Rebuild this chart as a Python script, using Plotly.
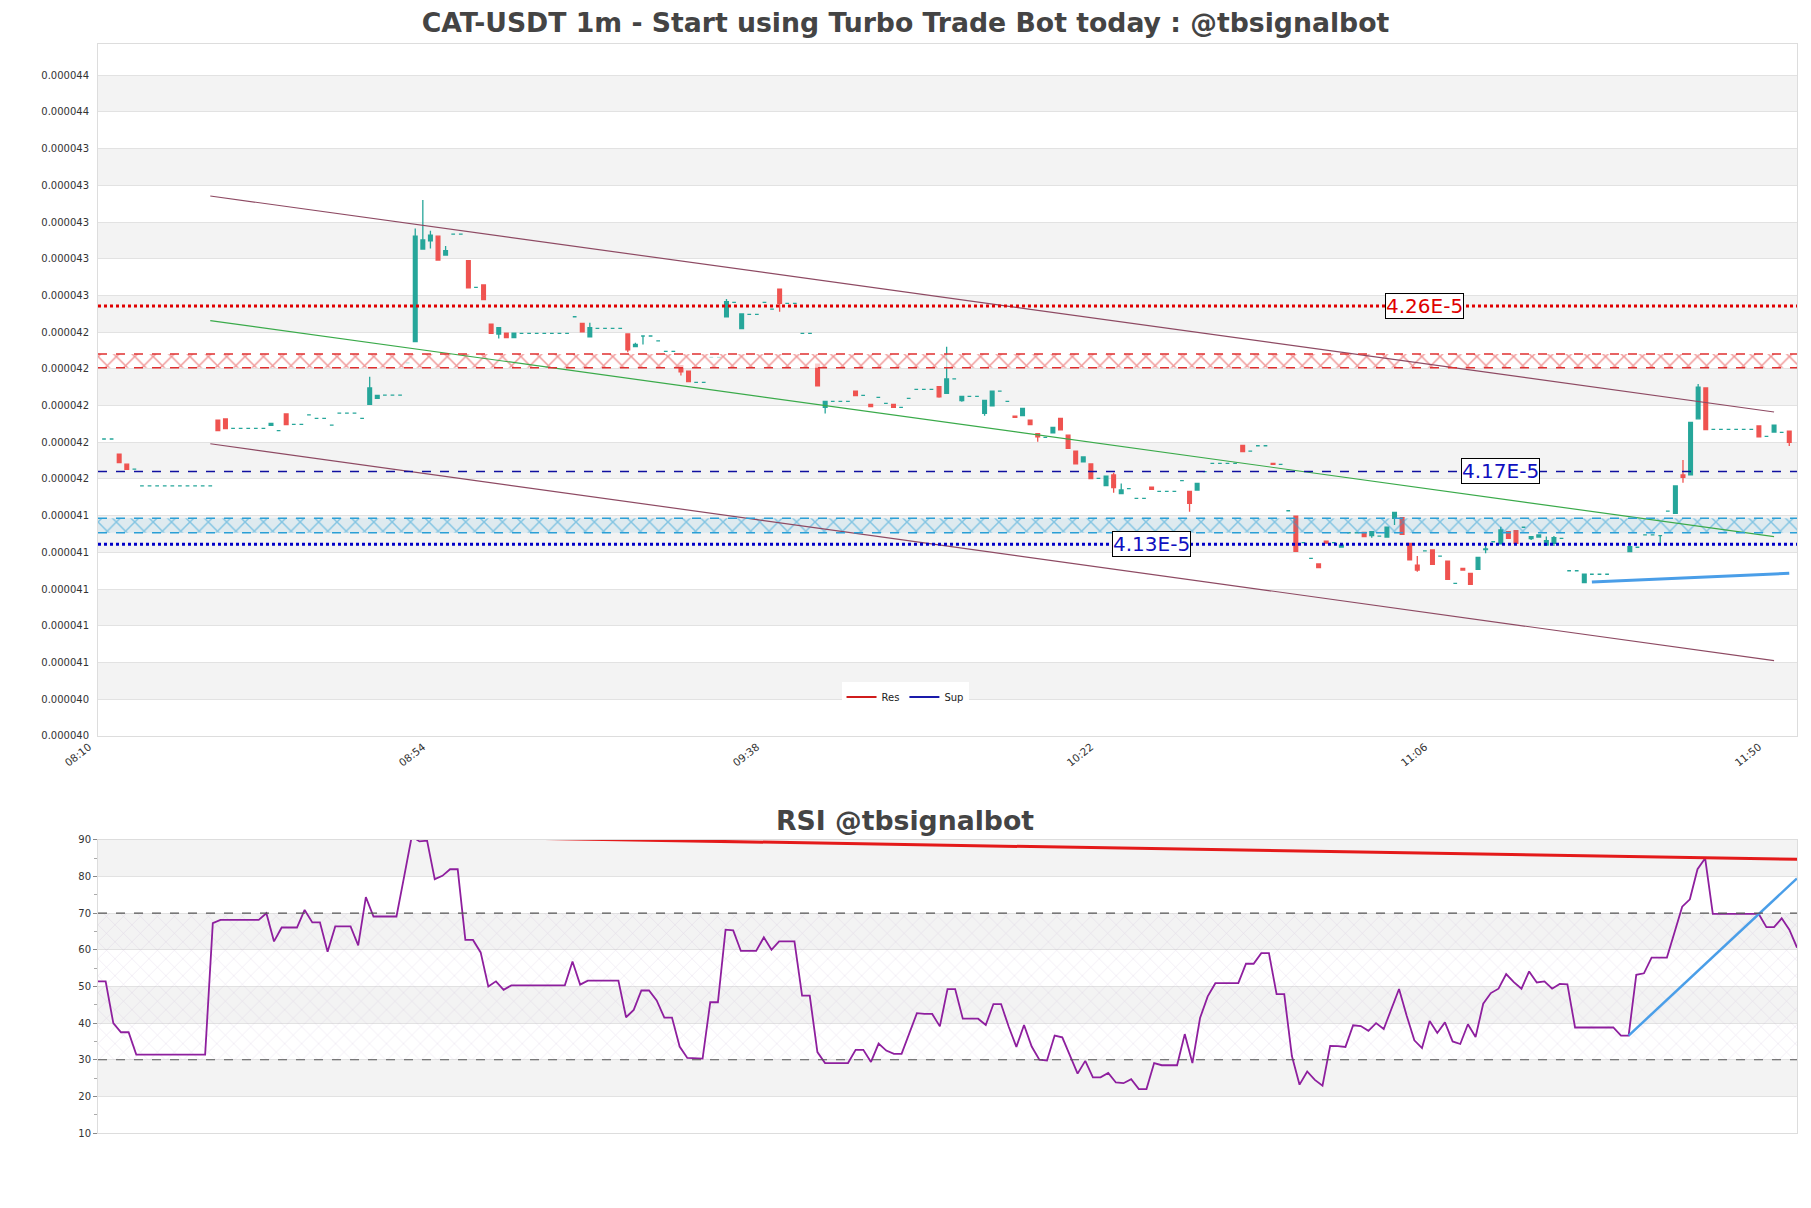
import pandas as pd
import plotly.graph_objects as go

# values in units of 1e-5
opens = [
    4.1868, 4.1868, 4.1786, 4.1731, 4.1704, 4.1612, 4.1612, 4.1612, 4.1612, 4.1612,
    4.1612, 4.1612, 4.1612, 4.1612, 4.1612, 4.1971, 4.1977, 4.1926, 4.1926, 4.1926,
    4.1926, 4.1926, 4.1942, 4.1913, 4.2004, 4.1948, 4.1948, 4.1999, 4.1980, 4.1980,
    4.1944, 4.2009, 4.2009, 4.2009, 4.1980, 4.2057, 4.2089, 4.2107, 4.2107, 4.2107,
    4.2283, 4.2398, 4.2903, 4.2948, 4.2973, 4.2870, 4.2984, 4.2984, 4.2839, 4.2694,
    4.2707, 4.2494, 4.2440, 4.2445, 4.2420, 4.2443, 4.2443, 4.2443, 4.2443, 4.2443,
    4.2443, 4.2443, 4.2534, 4.2498, 4.2425, 4.2471, 4.2471, 4.2471, 4.2471, 4.2440,
    4.2371, 4.2429, 4.2429, 4.2403, 4.2345, 4.2345, 4.2267, 4.2238, 4.2176, 4.2176,
    4.2313, 4.2313, 4.2534, 4.2612, 4.2469, 4.2547, 4.2547, 4.2612, 4.2576, 4.2685,
    4.2607, 4.2607, 4.2443, 4.2443, 4.2276, 4.2040, 4.2073, 4.2073, 4.2073, 4.2129,
    4.2106, 4.2057, 4.2095, 4.2062, 4.2057, 4.2040, 4.2089, 4.2138, 4.2138, 4.2138,
    4.2153, 4.2117, 4.2195, 4.2077, 4.2100, 4.2100, 4.2007, 4.2049, 4.2129, 4.2073,
    4.1993, 4.1995, 4.1971, 4.1897, 4.1877, 4.1902, 4.1980, 4.1889, 4.1802, 4.1744,
    4.1732, 4.1653, 4.1614, 4.1672, 4.1570, 4.1597, 4.1544, 4.1544, 4.1606, 4.1583,
    4.1583, 4.1583, 4.1641, 4.1583, 4.1590, 4.1690, 4.1735, 4.1735, 4.1735, 4.1735,
    4.1833, 4.1802, 4.1831, 4.1831, 4.1735, 4.1730, 4.1477, 4.1448, 4.1303, 4.1218,
    4.1187, 4.1312, 4.1303, 4.1279, 4.1357, 4.1357, 4.1359, 4.1341, 4.1339, 4.1334,
    4.1436, 4.1439, 4.1299, 4.1181, 4.1258, 4.1263, 4.1230, 4.1203, 4.1081, 4.1163,
    4.1136, 4.1158, 4.1265, 4.1308, 4.1296, 4.1363, 4.1368, 4.1387, 4.1325, 4.1334,
    4.1290, 4.1300, 4.1327, 4.1150, 4.1150, 4.1085, 4.1131, 4.1131, 4.1131, 4.1094,
    4.1094, 4.1254, 4.1278, 4.1345, 4.1345, 4.1341, 4.1475, 4.1463, 4.1672, 4.1672,
    4.1978, 4.2146, 4.1920, 4.1920, 4.1920, 4.1920, 4.1920, 4.1920, 4.1939, 4.1882,
    4.1906, 4.1904, 4.1911,
]
highs = [
    4.1868, 4.1868, 4.1786, 4.1731, 4.1704, 4.1612, 4.1612, 4.1612, 4.1612, 4.1612,
    4.1612, 4.1612, 4.1612, 4.1612, 4.1612, 4.1971, 4.1977, 4.1926, 4.1926, 4.1926,
    4.1926, 4.1926, 4.1953, 4.1913, 4.2004, 4.1948, 4.1948, 4.1999, 4.1980, 4.1980,
    4.1944, 4.2009, 4.2009, 4.2009, 4.1980, 4.2207, 4.2106, 4.2107, 4.2107, 4.2107,
    4.2283, 4.3015, 4.3170, 4.3003, 4.2973, 4.2919, 4.2984, 4.2984, 4.2839, 4.2694,
    4.2707, 4.2494, 4.2474, 4.2445, 4.2445, 4.2443, 4.2443, 4.2443, 4.2443, 4.2443,
    4.2443, 4.2443, 4.2534, 4.2498, 4.2501, 4.2471, 4.2471, 4.2471, 4.2471, 4.2440,
    4.2392, 4.2429, 4.2429, 4.2403, 4.2345, 4.2345, 4.2267, 4.2238, 4.2176, 4.2176,
    4.2313, 4.2313, 4.2630, 4.2612, 4.2549, 4.2547, 4.2547, 4.2612, 4.2576, 4.2685,
    4.2607, 4.2607, 4.2443, 4.2443, 4.2276, 4.2073, 4.2073, 4.2073, 4.2073, 4.2129,
    4.2106, 4.2057, 4.2095, 4.2062, 4.2057, 4.2040, 4.2089, 4.2138, 4.2138, 4.2138,
    4.2153, 4.2371, 4.2195, 4.2100, 4.2100, 4.2100, 4.2078, 4.2129, 4.2129, 4.2073,
    4.1993, 4.2035, 4.1971, 4.1897, 4.1877, 4.1931, 4.1980, 4.1889, 4.1802, 4.1770,
    4.1732, 4.1653, 4.1666, 4.1684, 4.1626, 4.1597, 4.1544, 4.1544, 4.1606, 4.1583,
    4.1583, 4.1583, 4.1641, 4.1583, 4.1626, 4.1690, 4.1735, 4.1735, 4.1735, 4.1735,
    4.1833, 4.1802, 4.1831, 4.1831, 4.1735, 4.1730, 4.1477, 4.1448, 4.1303, 4.1218,
    4.1187, 4.1312, 4.1303, 4.1290, 4.1357, 4.1357, 4.1359, 4.1363, 4.1339, 4.1387,
    4.1468, 4.1439, 4.1299, 4.1230, 4.1258, 4.1263, 4.1230, 4.1203, 4.1081, 4.1163,
    4.1136, 4.1223, 4.1290, 4.1308, 4.1390, 4.1363, 4.1368, 4.1387, 4.1336, 4.1345,
    4.1336, 4.1339, 4.1327, 4.1150, 4.1150, 4.1132, 4.1131, 4.1131, 4.1131, 4.1094,
    4.1094, 4.1281, 4.1278, 4.1345, 4.1345, 4.1341, 4.1475, 4.1612, 4.1753, 4.1958,
    4.2167, 4.2146, 4.1920, 4.1920, 4.1920, 4.1920, 4.1920, 4.1920, 4.1939, 4.1882,
    4.1944, 4.1904, 4.1911,
]
lows = [
    4.1868, 4.1868, 4.1739, 4.1702, 4.1704, 4.1612, 4.1612, 4.1612, 4.1612, 4.1612,
    4.1612, 4.1612, 4.1612, 4.1612, 4.1612, 4.1913, 4.1924, 4.1926, 4.1926, 4.1926,
    4.1926, 4.1926, 4.1942, 4.1913, 4.1946, 4.1948, 4.1948, 4.1999, 4.1980, 4.1980,
    4.1944, 4.2009, 4.2009, 4.2009, 4.1980, 4.2057, 4.2089, 4.2107, 4.2107, 4.2107,
    4.2283, 4.2398, 4.2903, 4.2906, 4.2843, 4.2870, 4.2984, 4.2984, 4.2692, 4.2694,
    4.2628, 4.2443, 4.2416, 4.2420, 4.2420, 4.2443, 4.2443, 4.2443, 4.2443, 4.2443,
    4.2443, 4.2443, 4.2534, 4.2452, 4.2425, 4.2471, 4.2471, 4.2471, 4.2471, 4.2340,
    4.2371, 4.2383, 4.2429, 4.2403, 4.2345, 4.2345, 4.2214, 4.2180, 4.2176, 4.2176,
    4.2313, 4.2313, 4.2534, 4.2612, 4.2469, 4.2547, 4.2547, 4.2612, 4.2576, 4.2561,
    4.2607, 4.2607, 4.2443, 4.2443, 4.2158, 4.2007, 4.2073, 4.2073, 4.2073, 4.2104,
    4.2106, 4.2044, 4.2095, 4.2062, 4.2040, 4.2040, 4.2089, 4.2138, 4.2138, 4.2138,
    4.2093, 4.2117, 4.2195, 4.2071, 4.2100, 4.2100, 4.1995, 4.2049, 4.2129, 4.2073,
    4.1986, 4.1995, 4.1946, 4.1853, 4.1877, 4.1902, 4.1918, 4.1817, 4.1733, 4.1744,
    4.1652, 4.1653, 4.1614, 4.1575, 4.1570, 4.1597, 4.1544, 4.1544, 4.1594, 4.1583,
    4.1583, 4.1583, 4.1641, 4.1472, 4.1590, 4.1690, 4.1735, 4.1735, 4.1735, 4.1735,
    4.1799, 4.1802, 4.1831, 4.1831, 4.1730, 4.1730, 4.1477, 4.1256, 4.1303, 4.1218,
    4.1167, 4.1301, 4.1303, 4.1279, 4.1357, 4.1357, 4.1336, 4.1330, 4.1339, 4.1334,
    4.1399, 4.1349, 4.1209, 4.1145, 4.1258, 4.1185, 4.1230, 4.1103, 4.1081, 4.1154,
    4.1076, 4.1158, 4.1245, 4.1308, 4.1296, 4.1327, 4.1300, 4.1387, 4.1318, 4.1334,
    4.1285, 4.1285, 4.1327, 4.1150, 4.1150, 4.1085, 4.1131, 4.1131, 4.1131, 4.1094,
    4.1094, 4.1254, 4.1278, 4.1345, 4.1345, 4.1290, 4.1475, 4.1463, 4.1630, 4.1672,
    4.1978, 4.1919, 4.1920, 4.1920, 4.1920, 4.1920, 4.1920, 4.1920, 4.1880, 4.1882,
    4.1906, 4.1904, 4.1830,
]
closes = [
    4.1868, 4.1868, 4.1739, 4.1702, 4.1704, 4.1612, 4.1612, 4.1612, 4.1612, 4.1612,
    4.1612, 4.1612, 4.1612, 4.1612, 4.1612, 4.1913, 4.1924, 4.1926, 4.1926, 4.1926,
    4.1926, 4.1926, 4.1953, 4.1913, 4.1946, 4.1948, 4.1948, 4.1999, 4.1980, 4.1980,
    4.1944, 4.2009, 4.2009, 4.2009, 4.1980, 4.2146, 4.2106, 4.2107, 4.2107, 4.2107,
    4.2283, 4.2973, 4.2952, 4.2979, 4.2843, 4.2894, 4.2984, 4.2984, 4.2692, 4.2694,
    4.2628, 4.2443, 4.2474, 4.2420, 4.2445, 4.2443, 4.2443, 4.2443, 4.2443, 4.2443,
    4.2443, 4.2443, 4.2534, 4.2452, 4.2474, 4.2471, 4.2471, 4.2471, 4.2471, 4.2353,
    4.2383, 4.2429, 4.2429, 4.2403, 4.2345, 4.2345, 4.2234, 4.2180, 4.2176, 4.2176,
    4.2313, 4.2313, 4.2616, 4.2612, 4.2549, 4.2547, 4.2547, 4.2612, 4.2576, 4.2607,
    4.2607, 4.2607, 4.2443, 4.2443, 4.2158, 4.2073, 4.2073, 4.2073, 4.2073, 4.2104,
    4.2106, 4.2044, 4.2095, 4.2062, 4.2040, 4.2040, 4.2089, 4.2138, 4.2138, 4.2138,
    4.2098, 4.2195, 4.2195, 4.2100, 4.2100, 4.2100, 4.2078, 4.2129, 4.2129, 4.2073,
    4.1986, 4.2035, 4.1946, 4.1880, 4.1877, 4.1931, 4.1918, 4.1817, 4.1733, 4.1770,
    4.1652, 4.1653, 4.1666, 4.1603, 4.1590, 4.1597, 4.1544, 4.1544, 4.1594, 4.1583,
    4.1583, 4.1583, 4.1641, 4.1517, 4.1626, 4.1690, 4.1735, 4.1735, 4.1735, 4.1735,
    4.1799, 4.1802, 4.1831, 4.1831, 4.1730, 4.1730, 4.1477, 4.1256, 4.1303, 4.1218,
    4.1167, 4.1301, 4.1303, 4.1290, 4.1357, 4.1357, 4.1336, 4.1363, 4.1339, 4.1387,
    4.1468, 4.1349, 4.1209, 4.1154, 4.1258, 4.1185, 4.1230, 4.1103, 4.1081, 4.1154,
    4.1076, 4.1223, 4.1269, 4.1308, 4.1372, 4.1327, 4.1300, 4.1387, 4.1336, 4.1345,
    4.1314, 4.1330, 4.1327, 4.1150, 4.1150, 4.1132, 4.1131, 4.1131, 4.1131, 4.1094,
    4.1094, 4.1281, 4.1278, 4.1345, 4.1345, 4.1341, 4.1475, 4.1612, 4.1659, 4.1958,
    4.2151, 4.1919, 4.1920, 4.1920, 4.1920, 4.1920, 4.1920, 4.1920, 4.1880, 4.1882,
    4.1944, 4.1904, 4.1850,
]
rsi = [
    51.4, 51.4, 40.0, 37.5, 37.5, 31.4, 31.4, 31.4, 31.4, 31.4,
    31.4, 31.4, 31.4, 31.4, 31.4, 67.3, 68.2, 68.2, 68.2, 68.2,
    68.2, 68.2, 70.0, 62.3, 66.1, 66.1, 66.1, 70.9, 67.5, 67.5,
    59.5, 66.4, 66.4, 66.4, 61.2, 74.4, 69.1, 69.1, 69.1, 69.1,
    80.0, 91.0, 89.6, 89.8, 79.3, 80.2, 82.0, 82.0, 62.7, 62.7,
    59.3, 50.0, 51.4, 49.1, 50.3, 50.3, 50.3, 50.3, 50.3, 50.3,
    50.3, 50.3, 56.8, 50.5, 51.6, 51.6, 51.6, 51.6, 51.6, 41.6,
    43.6, 48.9, 48.9, 46.2, 41.5, 41.5, 33.6, 30.5, 30.5, 30.3,
    45.7, 45.7, 65.5, 65.3, 59.7, 59.7, 59.7, 63.4, 60.0, 62.3,
    62.3, 62.3, 47.5, 47.5, 32.1, 29.1, 29.1, 29.1, 29.1, 32.7,
    32.7, 29.4, 34.4, 32.5, 31.6, 31.6, 37.0, 42.7, 42.5, 42.5,
    39.1, 49.3, 49.3, 41.2, 41.2, 41.2, 39.5, 45.2, 45.2, 39.0,
    33.5, 39.5, 33.6, 30.0, 29.8, 36.6, 36.1, 31.0, 26.2, 29.7,
    25.2, 25.2, 26.4, 23.8, 23.6, 24.7, 22.0, 22.0, 29.1, 28.5,
    28.5, 28.5, 37.0, 29.1, 41.4, 47.3, 50.9, 50.9, 50.9, 50.9,
    56.2, 56.2, 59.1, 59.1, 47.9, 47.9, 31.0, 23.2, 26.8, 24.5,
    22.9, 33.8, 33.7, 33.5, 39.4, 39.2, 37.9, 40.0, 38.4, 43.6,
    49.3, 42.0, 35.3, 33.2, 40.6, 37.3, 40.2, 35.0, 34.3, 39.7,
    36.2, 45.3, 48.2, 49.4, 53.4, 51.2, 49.4, 54.1, 51.1, 51.4,
    49.4, 50.7, 50.6, 38.8, 38.8, 38.8, 38.8, 38.8, 38.8, 36.6,
    36.6, 53.2, 53.6, 57.9, 57.9, 57.9, 64.8, 71.8, 73.8, 82.0,
    85.0, 69.8, 69.8, 69.8, 69.8, 69.8, 69.8, 69.8, 66.2, 66.2,
    68.6, 65.5, 60.6,
]

# levels / zones / trend lines (price in 1e-5)
res_level = 4.2592
sup_level = 4.1691
sup_level2 = 4.1295
res_zone = [4.2256, 4.2331]
sup_zone = [4.1357, 4.1436]
chan_idx = [14, 220]
chan_upper = [4.3192, 4.2015]
chan_lower = [4.1842, 4.0660]
chan_mid = [4.2513, 4.1336]
sup_trend_idx = [196, 222]
sup_trend_vals = [4.1089, 4.1136]
rsi_res_idx = [41, 222]
rsi_res_vals = [91.0, 84.7]
rsi_sup_idx = [200, 222]
rsi_sup_vals = [36.6, 79.5]
label_pos = [(174, res_level, "4.26E-5", "#e00000"),
             (184, sup_level, "4.17E-5", "#1010c0"),
             (138, sup_level2, "4.13E-5", "#1010c0")]

S = 1e-5
times = pd.date_range("2024-01-01 08:10", periods=len(closes), freq="min")
o = [v * S for v in opens]
h = [v * S for v in highs]
l = [v * S for v in lows]
c = [v * S for v in closes]

UP = "#26a69a"
DOWN = "#ef5350"
FONT = "DejaVu Sans"

fig = go.Figure()

up_i = [i for i in range(len(c)) if c[i] >= o[i]]
dn_i = [i for i in range(len(c)) if c[i] < o[i]]
for idx, col in ((up_i, UP), (dn_i, DOWN)):
    fig.add_trace(go.Candlestick(
        x=[times[i] for i in idx], open=[o[i] for i in idx], high=[h[i] for i in idx],
        low=[l[i] for i in idx], close=[c[i] for i in idx],
        increasing=dict(line=dict(color=col, width=1.3), fillcolor=col),
        decreasing=dict(line=dict(color=col, width=1.3), fillcolor=col),
        showlegend=False, xaxis="x", yaxis="y"))

minute = pd.Timedelta(minutes=1)
x_lo = times[0] - 0.79 * minute
x_hi = times[0] + 223.02 * minute

# hatched zones
for zone, col, bg in ((res_zone, "#e03030", "rgba(255,255,255,0.7)"),
                      (sup_zone, "#2a9fd6", "rgba(42,159,214,0.10)")):
    lo, hi = zone[0] * S, zone[1] * S
    fig.add_trace(go.Scatter(
        x=[x_lo, x_hi, x_hi, x_lo, x_lo], y=[lo, lo, hi, hi, lo],
        mode="lines", line=dict(width=0), fill="toself", fillcolor=bg,
        fillpattern=dict(shape="x", fgcolor=col, size=13, solidity=0.22),
        showlegend=False, hoverinfo="skip", xaxis="x", yaxis="y"))
    for yv in (lo, hi):
        fig.add_shape(type="line", xref="x domain", yref="y", x0=0, x1=1, y0=yv, y1=yv,
                      line=dict(color=col, width=1.5, dash="dash"))

# channel + trend lines
for vals, col, w in ((chan_upper, "#8e4a63", 1.2), (chan_lower, "#8e4a63", 1.2), (chan_mid, "#3aaa4a", 1.2)):
    fig.add_trace(go.Scatter(x=[times[i] for i in chan_idx], y=[v * S for v in vals], mode="lines",
                             line=dict(color=col, width=w), showlegend=False, hoverinfo="skip",
                             xaxis="x", yaxis="y"))
fig.add_trace(go.Scatter(x=[times[i] for i in sup_trend_idx], y=[v * S for v in sup_trend_vals],
                         mode="lines", line=dict(color="#4a9ee8", width=3), showlegend=False,
                         hoverinfo="skip", xaxis="x", yaxis="y"))

# level lines
fig.add_shape(type="line", xref="x domain", yref="y", x0=0, x1=1, y0=res_level * S, y1=res_level * S,
              line=dict(color="#e00000", width=3, dash="dot"))
fig.add_shape(type="line", xref="x domain", yref="y", x0=0, x1=1, y0=sup_level * S, y1=sup_level * S,
              line=dict(color="#1010a0", width=1.5, dash="dash"))
fig.add_shape(type="line", xref="x domain", yref="y", x0=0, x1=1, y0=sup_level2 * S, y1=sup_level2 * S,
              line=dict(color="#0000c8", width=3, dash="dot"))
for i, yv, txt, col in label_pos:
    fig.add_annotation(x=times[i], y=yv * S, xref="x", yref="y", text=txt, showarrow=False,
                       font=dict(family=FONT, size=20, color=col), bgcolor="white",
                       bordercolor="black", borderwidth=1, borderpad=0)

# legend entries
fig.add_trace(go.Scatter(x=[None], y=[None], mode="lines", name="Res",
                         line=dict(color="#d01c1c", width=2), xaxis="x", yaxis="y"))
fig.add_trace(go.Scatter(x=[None], y=[None], mode="lines", name="Sup",
                         line=dict(color="#1a1aaa", width=2), xaxis="x", yaxis="y"))

# RSI panel
fig.add_trace(go.Scatter(x=[times[0], times[-1], times[-1], times[0], times[0]],
                         y=[30, 30, 70, 70, 30], mode="lines", line=dict(width=0),
                         fill="toself", fillcolor="rgba(255,255,255,0)",
                         fillpattern=dict(shape="x", fgcolor="rgba(175,145,195,0.5)", size=12, solidity=0.1),
                         showlegend=False, hoverinfo="skip", xaxis="x2", yaxis="y2"))
fig.add_trace(go.Scatter(x=times, y=rsi, mode="lines", line=dict(color="#8e1f9e", width=1.8),
                         showlegend=False, xaxis="x2", yaxis="y2"))
fig.add_trace(go.Scatter(x=[times[i] for i in rsi_res_idx], y=rsi_res_vals, mode="lines",
                         line=dict(color="#e41a1a", width=3), showlegend=False, xaxis="x2", yaxis="y2"))
fig.add_trace(go.Scatter(x=[times[i] for i in rsi_sup_idx], y=rsi_sup_vals, mode="lines",
                         line=dict(color="#4a9ee8", width=2.5), showlegend=False, xaxis="x2", yaxis="y2"))
for yv in (30, 70):
    fig.add_shape(type="line", xref="x2 domain", yref="y2", x0=0, x1=1, y0=yv, y1=yv,
                  line=dict(color="#555555", width=1.2, dash="dash"))

# alternating bands
tick0 = 4.025
step = 0.02
for k in range(1, 18, 2):
    fig.add_shape(type="rect", xref="x domain", yref="y", x0=0, x1=1,
                  y0=(tick0 + k * step) * S, y1=(tick0 + (k + 1) * step) * S,
                  fillcolor="#f3f3f3", line_width=0, layer="below")
for lo in (20, 40, 60, 80):
    fig.add_shape(type="rect", xref="x2 domain", yref="y2", x0=0, x1=1, y0=lo, y1=lo + 10,
                  fillcolor="#f3f3f3", line_width=0, layer="below")

fig.add_annotation(text="<b>RSI @tbsignalbot</b>", xref="paper", yref="paper", x=0.475, y=0.2874,
                   xanchor="center", yanchor="middle", showarrow=False,
                   font=dict(family=FONT, size=26.7, color="#444444"))

axis_font = dict(family=FONT, size=10, color="#333333")
fig.update_layout(
    width=1795, height=1192,
    margin=dict(l=90, r=6, t=36, b=67, autoexpand=False),
    paper_bgcolor="white", plot_bgcolor="white",
    title=dict(text="<b>CAT-USDT 1m - Start using Turbo Trade Bot today : @tbsignalbot</b>",
               x=0.5, xanchor="center", y=0.9874, yanchor="middle",
               font=dict(family=FONT, size=26.7, color="#444444")),
    showlegend=True,
    legend=dict(orientation="h", x=0.475, xanchor="center", y=0.4004, yanchor="middle",
                bgcolor="white", font=dict(family=FONT, size=10, color="#222222")),
    xaxis=dict(domain=[0, 1], anchor="y", type="date", range=[x_lo, x_hi], automargin=False,
               tick0=times[0], dtick=44 * 60000, tickformat="%H:%M", tickangle=-38,
               ticklabelshift=-15, tickfont=dict(family=FONT, size=10.5, color="#333333"),
               showgrid=False, rangeslider=dict(visible=False),
               showline=True, linecolor="#dddddd", mirror=True, ticks=""),
    yaxis=dict(domain=[0.3646, 1], anchor="x", range=[4.025 * S, 4.402 * S], automargin=False,
               tick0=tick0 * S, dtick=step * S, tickformat=".6f", tickfont=axis_font,
               ticklabelstandoff=6,
               gridcolor="#e2e2e2", showline=True, linecolor="#dddddd", mirror=True, zeroline=False),
    xaxis2=dict(domain=[0, 1], anchor="y2", type="date", range=[times[0], times[-1]], automargin=False,
                showticklabels=False, showgrid=False, showline=True, linecolor="#dddddd",
                mirror=True, ticks=""),
    yaxis2=dict(domain=[0, 0.2691], anchor="x2", range=[10, 90], dtick=10, tickfont=axis_font,
                automargin=False, gridcolor="#e2e2e2", showline=True, linecolor="#dddddd",
                mirror=True, zeroline=False, ticks="outside", ticklen=4, tickcolor="#888888",
                minor=dict(ticks="outside", ticklen=3, dtick=5, tickcolor="#aaaaaa", showgrid=False)),
)

fig.write_html("out.html")
